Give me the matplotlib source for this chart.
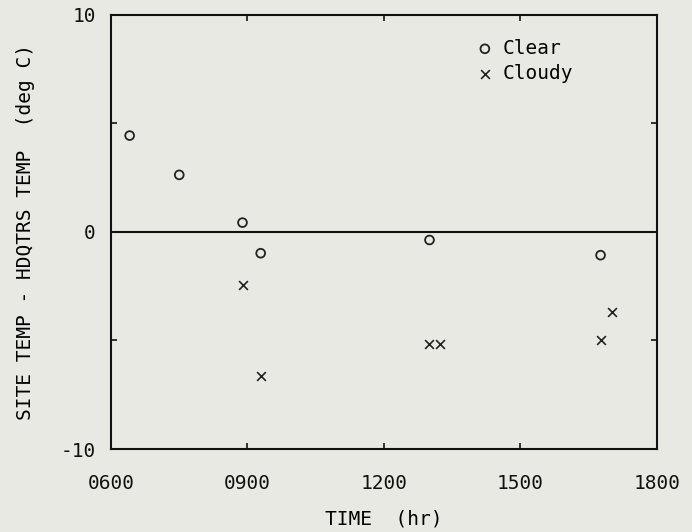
import matplotlib.pyplot as plt

# time of day (hours) and temperature difference (deg C)
clear_t = [6.41, 7.50, 8.89, 9.29, 13.00, 16.76]
clear_dt = [4.44, 2.63, 0.43, -0.98, -0.37, -1.07]
cloudy_t = [8.91, 9.29, 13.00, 13.24, 16.77, 17.01]
cloudy_dt = [-2.44, -6.65, -5.18, -5.18, -4.96, -3.67]

xticks = [6, 9, 12, 15, 18]
xlabels = ['0600', '0900', '1200', '1500', '1800']
yticks = [-10, -5, 0, 5, 10]
ylabels = ['-10', '', '0', '', '10']

bg = '#e9e9e4'
plt.rcParams['font.family'] = 'DejaVu Sans Mono'

fig = plt.figure(figsize=(6.92, 5.32), dpi=100, facecolor=bg)
ax = fig.add_axes([0.1604, 0.156, 0.789, 0.816], facecolor=bg)

ax.scatter(clear_t, clear_dt, marker='o', s=40, facecolors='none',
           edgecolors='#222222', linewidths=1.3, label='Clear')
ax.scatter(cloudy_t, cloudy_dt, marker='x', s=40, color='#222222',
           linewidths=1.2, label='Cloudy')
ax.axhline(0, color='#111111', lw=1.5)

ax.set_xlim(6, 18)
ax.set_ylim(-10, 10)
ax.set_xticks(xticks)
ax.set_xticklabels(xlabels)
ax.set_yticks(yticks)
ax.set_yticklabels(ylabels)
ax.tick_params(direction='in', length=4, width=1.2, top=True, right=True,
               labelsize=14, colors='#111111')
ax.tick_params(axis='x', pad=18)
ax.tick_params(axis='y', pad=11)
for s in ax.spines.values():
    s.set_linewidth(1.5)
    s.set_color('#111111')

ax.set_xlabel('TIME  (hr)', fontsize=14, labelpad=12)
ax.set_ylabel('SITE TEMP - HDQTRS TEMP  (deg C)', fontsize=14, labelpad=18)

leg = ax.legend(loc='upper right', bbox_to_anchor=(0.878, 0.985), frameon=False,
                fontsize=14, handletextpad=0.4, labelspacing=0.3,
                handlelength=1.0)

plt.savefig('out.png', dpi=100, facecolor=bg)
